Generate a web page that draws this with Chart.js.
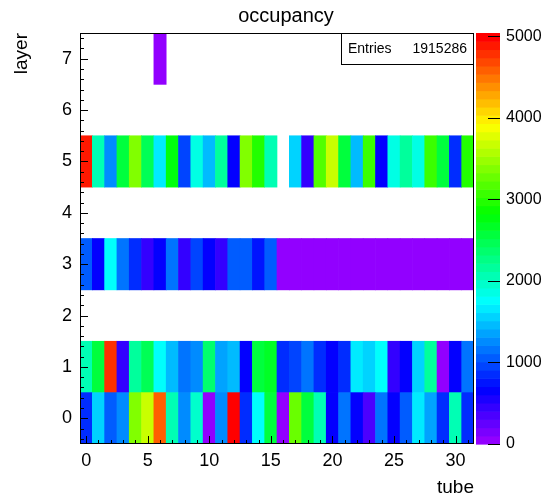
<!DOCTYPE html>
<html lang="en">
<head>
<meta charset="UTF-8" />
<title>occupancy</title>
<script src="https://cdn.jsdelivr.net/npm/chart.js@4.4.1/dist/chart.umd.min.js"></script>
<style>
  html, body { margin: 0; padding: 0; background: #fff; }
  #wrap { width: 542px; height: 499px; }
</style>
</head>
<body>
<div id="wrap"><canvas id="occ" width="542" height="499"></canvas></div>
<script>
// tube numbers along x, layers along y
const tubes = [0, 1, 2, 3, 4, 5, 6, 7, 8, 9, 10, 11, 12, 13, 14, 15,
               16, 17, 18, 19, 20, 21, 22, 23, 24, 25, 26, 27, 28, 29, 30, 31];
const layers = [0, 1, 3, 5, 7];

// hit counts per tube, one array per layer (null = empty bin)
const layer0 = [850, 1600, 1100, 1300, 3400, 3650, 4550, 2100, 1250, 2000, 50, 1300, 4950, 850, 1800, 2550,
                50, 3250, 2550, 2050, 650, 1200, 650, 350, 1200, 700, 1050, 1700, 1400, 850, 2100, 900];
const layer1 = [2100, 2550, 4800, 500, 2200, 2450, 1800, 1500, 1150, 1250, 2350, 1350, 1500, 650, 2550, 2650,
                850, 950, 1150, 900, 650, 850, 1700, 1600, 1800, 450, 700, 1600, 2150, 50, 700, 1200];
const layer3 = [1050, 650, 1800, 1200, 850, 500, 700, 1200, 500, 1000, 700, 500, 1100, 1100, 750, 1050,
                30, 30, 30, 30, 30, 30, 30, 30, 30, 30, 30, 30, 30, 30, 30, 30];
const layer5 = [4900, 2100, 1250, 2550, 3400, 2450, 1700, 2800, 1000, 1900, 1500, 2200, 650, 3400, 3000, 2100,
                null, 1600, 450, 3150, 3650, 2550, 1450, 3050, 700, 1900, 2150, 1850, 3050, 2550, 900, 3000];
const layer7 = [null, null, null, null, null, null, 40, null, null, null, null, null, null, null, null, null,
                null, null, null, null, null, null, null, null, null, null, null, null, null, null, null, null];
const rows = [layer0, layer1, layer3, layer5, layer7];

const xTicks = [0, 5, 10, 15, 20, 25, 30];
const yTicks = [0, 1, 2, 3, 4, 5, 6, 7];
const zTicks = [0, 1000, 2000, 3000, 4000, 5000];
const zMax = 5040;
const entries = '1915286';

const FONT = '"Liberation Sans", Arial, Helvetica, sans-serif';
const NCOL = 50;

// violet -> red spectrum, 50 steps in hue
function paletteColor(i) {
  const hue = 280 - (i + 1) * (280 / NCOL);
  return 'hsl(' + hue.toFixed(1) + ', 100%, 50%)';
}
function colorFor(v) {
  const i = Math.floor(0.01 + v * NCOL / zMax);
  return paletteColor(Math.min(Math.max(i, 0), NCOL - 1));
}

const datasets = layers.map((layer, k) => {
  const pts = [];
  tubes.forEach((t, j) => {
    const v = rows[k][j];
    if (v !== null) pts.push({ x: t, y: [layer - 0.5, layer + 0.5], v: v });
  });
  return {
    label: 'layer ' + layer,
    data: pts,
    backgroundColor: pts.map(p => colorFor(p.v)),
    borderWidth: 0,
    barPercentage: 1,
    categoryPercentage: 1,
    grouped: false
  };
});

// frame, inward ticks, colour palette, stats box and title
const rootDecor = {
  id: 'rootDecor',
  afterDatasetsDraw(chart) {
    const { ctx, chartArea: a, scales } = chart;
    const x = scales.x, y = scales.y, z = scales.z;
    ctx.save();

    // palette
    const p0 = a.right + 2, p1 = a.right + 26;
    for (let i = 0; i < NCOL; i++) {
      const yTop = z.getPixelForValue((i + 1) * zMax / NCOL);
      const yBot = z.getPixelForValue(i * zMax / NCOL);
      ctx.fillStyle = paletteColor(i);
      ctx.fillRect(p0, yTop, p1 - p0, yBot - yTop + 0.6);
    }

    ctx.strokeStyle = '#000';
    ctx.lineWidth = 1;
    ctx.beginPath();
    zTicks.forEach(v => {
      const py = Math.round(z.getPixelForValue(v)) + 0.5;
      ctx.moveTo(p1 - 12, py);
      ctx.lineTo(p1, py);
    });
    // x ticks, one per tube
    for (let t = 0; t <= 31; t++) {
      const px = Math.round(x.getPixelForValue(t)) + 0.5;
      const len = t % 5 === 0 ? 8 : 4;
      ctx.moveTo(px, a.bottom);
      ctx.lineTo(px, a.bottom - len);
    }
    // y ticks every 0.2
    for (let k = -2; k <= 37; k++) {
      const py = Math.round(y.getPixelForValue(k / 5)) + 0.5;
      const len = k % 5 === 0 ? 8 : 4;
      ctx.moveTo(a.left, py);
      ctx.lineTo(a.left + len, py);
    }
    ctx.stroke();

    // frame
    ctx.strokeRect(Math.round(a.left) + 0.5, Math.round(a.top) + 0.5,
                   Math.round(a.right - a.left) - 1, Math.round(a.bottom - a.top) - 1);

    // stats box
    const bx = 341, by = Math.round(a.top) + 0.5, bw = Math.round(a.right) - 1 - bx, bh = 31;
    ctx.fillStyle = '#fff';
    ctx.fillRect(bx, by, bw, bh);
    ctx.strokeRect(bx + 0.5, by, bw, bh);
    ctx.fillStyle = '#000';
    ctx.font = '14px ' + FONT;
    ctx.textBaseline = 'alphabetic';
    ctx.textAlign = 'left';
    ctx.fillText('Entries', 348, 53);
    ctx.textAlign = 'right';
    ctx.fillText(entries, 467, 53);

    // title
    ctx.font = '20px ' + FONT;
    ctx.textAlign = 'center';
    ctx.fillText('occupancy', 286, 22);
    ctx.restore();
  }
};

new Chart(document.getElementById('occ'), {
  type: 'bar',
  data: { datasets: datasets },
  options: {
    responsive: false,
    animation: false,
    layout: { padding: { top: 33, left: 0, right: 0, bottom: 0 } },
    plugins: {
      legend: { display: false },
      title: { display: false },
      tooltip: { enabled: false }
    },
    scales: {
      x: {
        type: 'linear',
        min: -0.5,
        max: 31.5,
        offset: false,
        grid: { display: false, drawTicks: false },
        border: { display: false },
        afterBuildTicks: s => { s.ticks = xTicks.map(v => ({ value: v })); },
        afterFit: s => { s.height = 55; s.paddingLeft = 0; s.paddingRight = 0; },
        ticks: {
          font: { family: FONT, size: 18 },
          color: '#000',
          padding: 6,
          maxRotation: 0,
          autoSkip: false,
          callback: v => String(v)
        },
        title: {
          display: true,
          text: 'tube',
          align: 'end',
          color: '#000',
          font: { family: FONT, size: 19 },
          padding: { top: 0, bottom: 0 }
        }
      },
      y: {
        type: 'linear',
        min: -0.5,
        max: 7.5,
        grid: { display: false, drawTicks: false },
        border: { display: false },
        afterBuildTicks: s => { s.ticks = yTicks.map(v => ({ value: v })); },
        afterFit: s => { s.width = 80; s.paddingTop = 0; s.paddingBottom = 0; },
        ticks: {
          font: { family: FONT, size: 18 },
          color: '#000',
          padding: 8,
          autoSkip: false,
          callback: v => String(v)
        },
        title: {
          display: true,
          text: 'layer',
          align: 'end',
          color: '#000',
          font: { family: FONT, size: 19 },
          padding: { top: 10, bottom: 0 }
        }
      },
      z: {
        type: 'linear',
        position: 'right',
        min: 0,
        max: zMax,
        grid: { display: true, drawOnChartArea: false, drawTicks: true, tickLength: 30, color: 'rgba(0,0,0,0)' },
        border: { display: false },
        afterBuildTicks: s => { s.ticks = zTicks.map(v => ({ value: v })); },
        afterFit: s => { s.width = 68; s.paddingTop = 0; s.paddingBottom = 0; },
        ticks: {
          font: { family: FONT, size: 16 },
          color: '#000',
          padding: 2,
          autoSkip: false,
          callback: v => String(v)
        }
      }
    }
  },
  plugins: [rootDecor]
});
</script>
</body>
</html>
